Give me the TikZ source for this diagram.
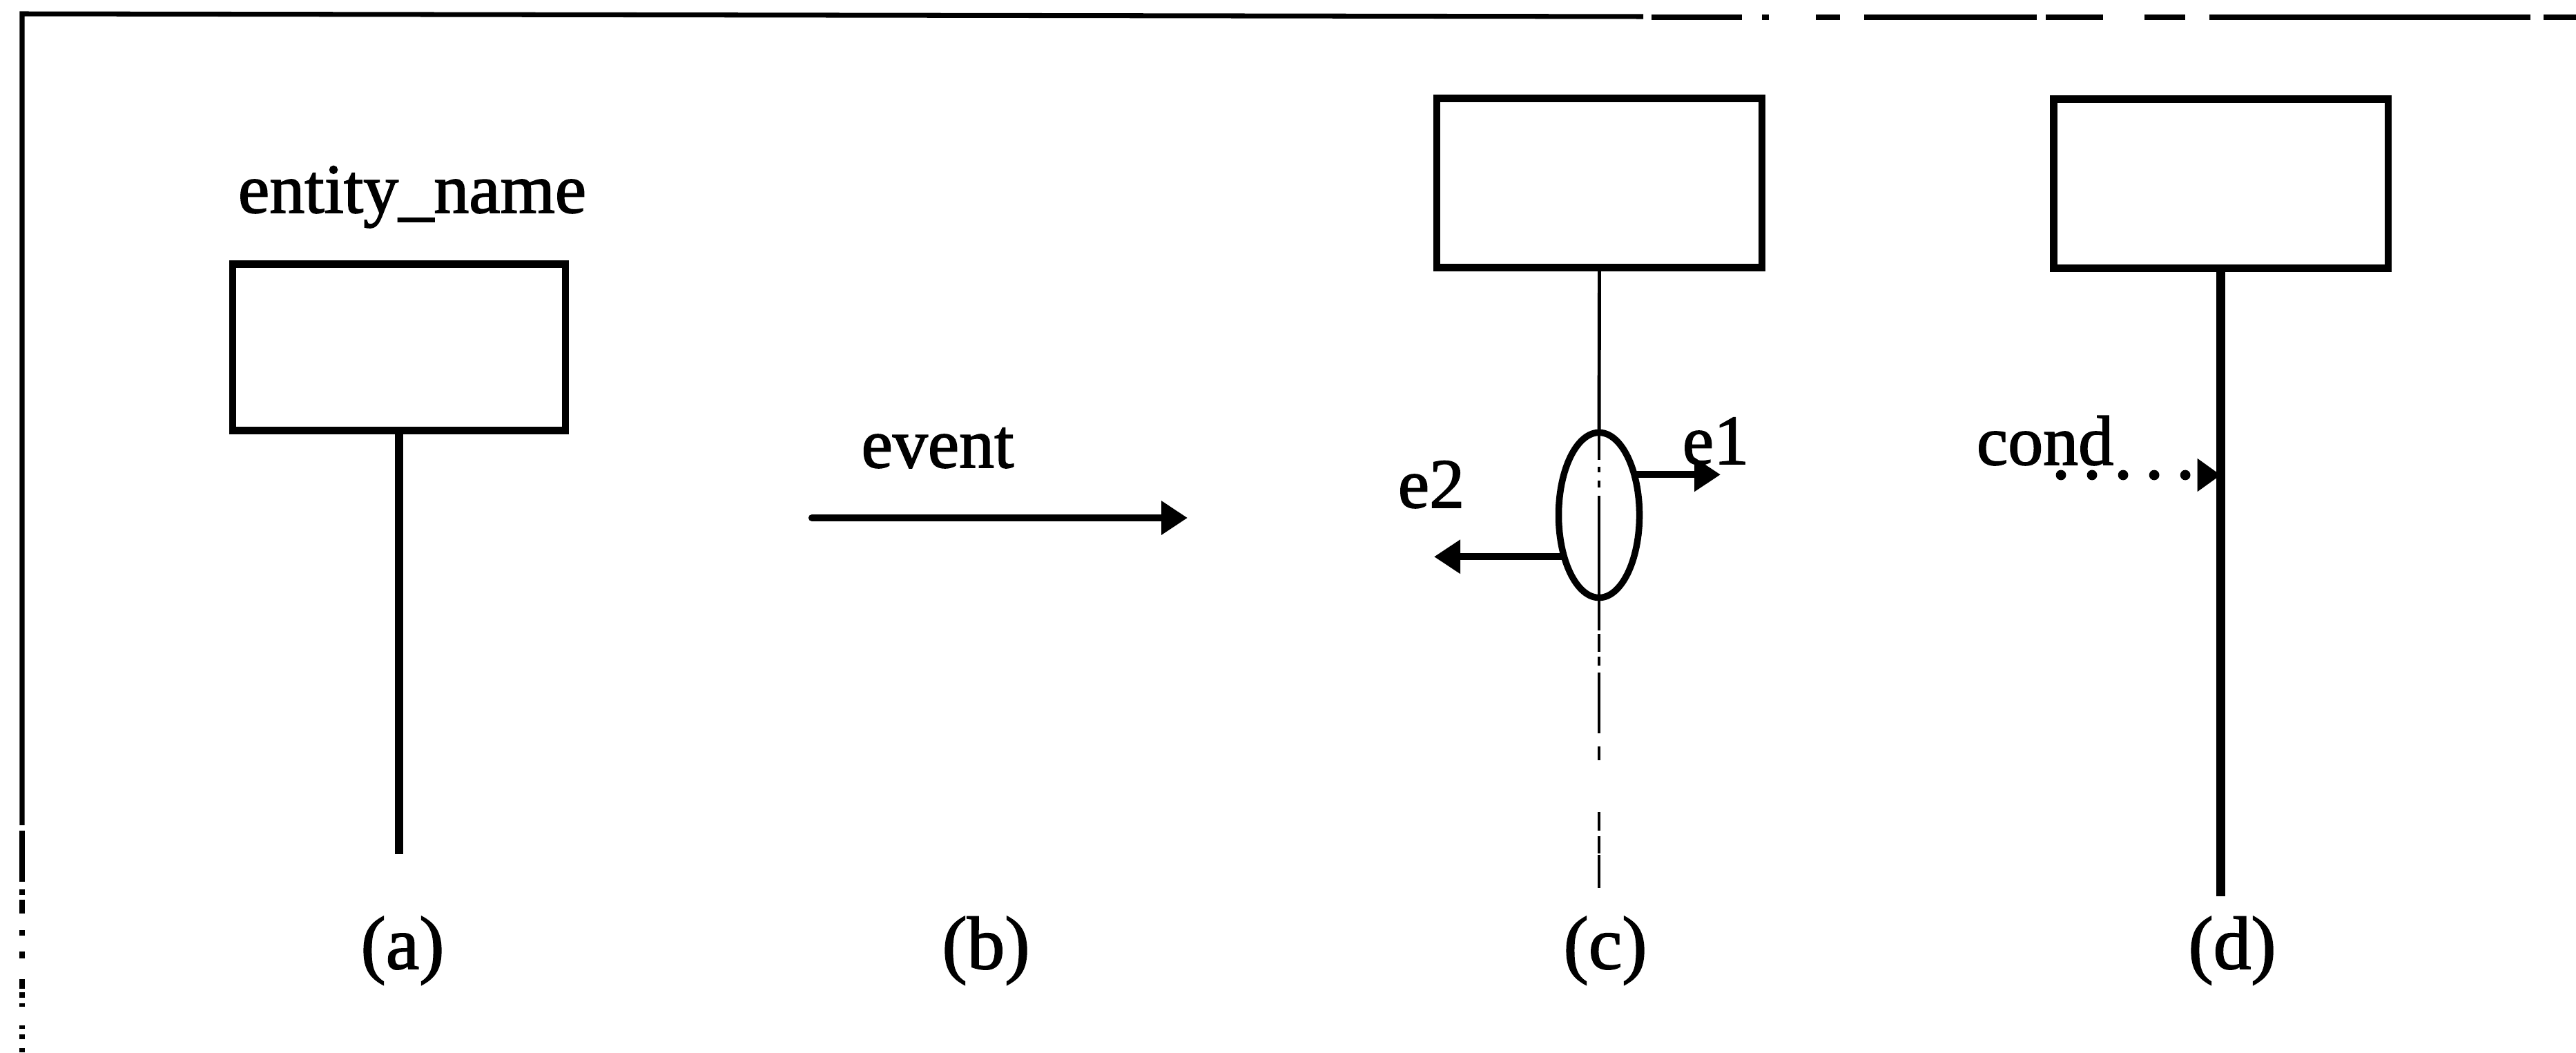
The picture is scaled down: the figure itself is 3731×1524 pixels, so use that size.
\documentclass[tikz,border=0pt]{standalone}
\usepackage{fontspec}
\setmainfont{Liberation Serif}[FakeBold=1.6]
\usetikzlibrary{shapes.geometric,arrows.meta}
\begin{document}
\begin{tikzpicture}[x=0.01cm,y=-0.01cm,
  txt/.style={font=\fontsize{29}{34}\selectfont, inner sep=0pt, anchor=base},
  captxt/.style={font=\fontsize{31}{36}\selectfont, inner sep=0pt, anchor=base},
  entbox/.style={draw, line width=2.9pt, minimum width=#1, minimum height=2.45cm, inner sep=0pt, outer sep=0pt},
  life/.style={line width=3.6pt},
  thinlife/.style={line width=1.4pt},
  arr/.style={line width=2.9pt, -{Triangle[length=0.38cm,width=0.47cm]}},
  dotarr/.style={line width=4.2pt, line cap=round, dash pattern=on 0pt off 0.45cm, -{Triangle[length=0.34cm,width=0.46cm]}},
  border/.style={line width=2pt},
]
\useasboundingbox (0,0) rectangle (3731,1524);

% frame (top and left edges of the scanned figure)
\draw[border] (32,1195) -- (32,20) -- (2380,24);
\draw[border] (32,1203) -- (32,1277);
\foreach \a/\b in {2392/2523,2552/2562,2630/2665,2700/2950,2963/3046,3106/3165,3200/3665,3684/3731}
  \draw[border] (\a,25) -- (\b,25);
\foreach \a/\b in {1288/1296,1303/1323,1347/1355,1378/1388,1418/1432,1437/1445,1453/1458,1485/1490,1498/1505,1518/1524}
  \draw[border] (32,\a) -- (32,\b);

% (a)
\node[txt] (namea) at (597,308) {entity\_name};
\node[entbox=4.81cm, minimum height=2.41cm] (boxa) at (578,503) {};
\coordinate (enda) at (580,1237);
\draw[life] (boxa.south) -- (boxa.south |- enda);
\node[captxt] (capa) at (583,1403) {(a)};

% (b)
\node[txt] (evt) at (1358,677) {event};
\coordinate (evs) at (1176,750);
\coordinate (eve) at (1720,750);
\draw[arr, line cap=round] (evs) -- (eve);
\node[captxt] (capb) at (1428,1403) {(b)};

% (c)
\node[entbox=4.70cm] (boxc) at (2316.5,265) {};
\node[draw, ellipse, line width=2.7pt, minimum width=1.17cm, minimum height=2.39cm, inner sep=0pt, outer sep=0pt] (ell) at (2316,746) {};
\coordinate (endc) at (2316,1290);
\draw[thinlife] (boxc.south) -- (ell.north);
\draw[thinlife, dash pattern=on 0.4cm off 0.1cm on 0.08cm off 0.12cm on 0.1cm off 0.12cm on 1.5cm off 0cm] (ell.north) -- (ell.south);
\draw[thinlife, dash pattern=on 0.47cm off 0.05cm on 0.26cm off 0.07cm on 0.13cm off 0.1cm on 0.88cm off 0.19cm on 0.2cm off 0.75cm on 0.27cm off 0.08cm on 0.25cm off 0.02cm on 0.48cm off 0.5cm] (ell.south) -- (endc);
\coordinate (e1end) at (2492,687);
\coordinate (e2end) at (2077,807);
\draw[arr] (ell.49) -- (ell.49 -| e1end);
\draw[arr] (ell.230) -- (ell.230 -| e2end);
\node[txt] (le1) at (2485,672) {e1};
\node[txt] (le2) at (2073,735) {e2};
\node[captxt] (capc) at (2325,1403) {(c)};

% (d)
\node[entbox=4.84cm] (boxd) at (3216.5,266) {};
\coordinate (endd) at (3217,1298);
\draw[life] (boxd.south) -- (boxd.south |- endd);
\coordinate (cs) at (2985,688);
\draw[dotarr] (cs) -- (cs -| boxd.south);
\node[txt] (lcond) at (2962,673) {cond};
\node[captxt] (capd) at (3233,1403) {(d)};
\end{tikzpicture}
\end{document}
